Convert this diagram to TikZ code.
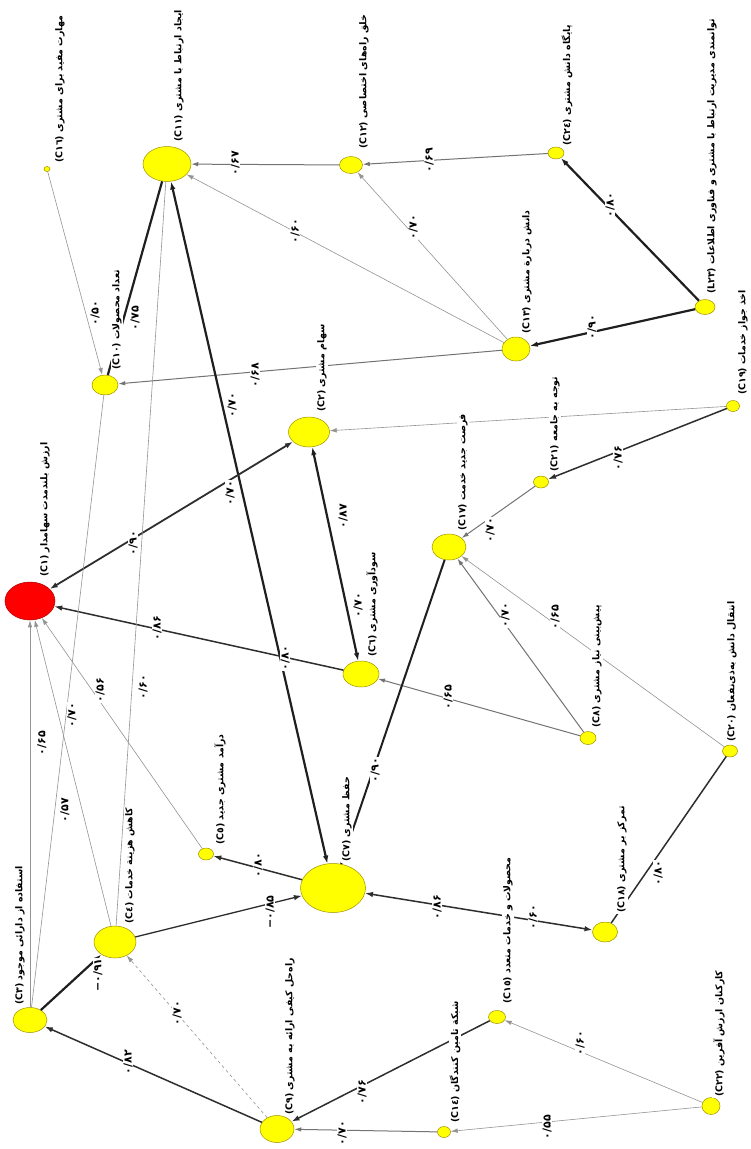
\documentclass[tikz,border=0pt]{standalone}
\usepackage{fontspec}
\newfontfamily\fa[Script=Arabic]{DejaVu Sans}
\TeXXeTstate=1
\usetikzlibrary{shapes.geometric,arrows.meta}
\definecolor{ylw}{HTML}{FFFF00}
\definecolor{ylwline}{HTML}{A09000}
\definecolor{rd}{HTML}{FF0000}
\definecolor{rdline}{HTML}{B00000}
\newcommand\nd[5]{\node[yn,minimum width=#4pt,minimum height=#5pt] (#1) at (#2,#3) {};}
\begin{document}
\begin{tikzpicture}[x=1pt,y=-1pt,
  yn/.style={ellipse, draw=ylwline, fill=ylw, line width=0.5pt, inner sep=0pt},
  rn/.style={ellipse, draw=rdline, fill=rd, line width=0.5pt, inner sep=0pt},
  nlab/.style={rotate=90, anchor=west, fill=white, inner sep=1pt, font=\fa\bfseries\fontsize{9.4}{10}\selectfont},
  elab/.style={rotate=90, fill=white, inner sep=0.8pt, font=\fa\bfseries\fontsize{11}{12}\selectfont},
  hv/.style={draw=black!88, line width=2.2pt},
  md/.style={draw=black!82, line width=1.5pt},
  gr/.style={draw=black!55, line width=1pt},
  lt/.style={draw=black!42, line width=0.6pt},
  ah/.style={-{Latex[length=8pt,width=5.5pt]}},
  ahb/.style={{Latex[length=8pt,width=5.5pt]}-{Latex[length=8pt,width=5.5pt]}},
  ahs/.style={-{Latex[length=7pt,width=4.5pt]}},
]
\fill[white] (0,0) rectangle (751,1149);
\path[use as bounding box] (0,0) rectangle (751,1149);
% nodes
\node[rn,minimum width=50pt,minimum height=38pt] (C1) at (30,601) {};
\nd{C2}{309}{432}{41}{30}
\nd{C3}{30}{1020}{34}{25}
\nd{C4}{115}{942}{42}{32}
\nd{C5}{206}{854}{15}{12}
\nd{C6}{361}{674}{36}{26}
\nd{C7}{333}{888}{65}{49}
\nd{C8}{588}{738}{16}{13}
\nd{C9}{277}{1129}{34}{27}
\nd{C10}{105}{385}{26}{20}
\nd{C11}{167}{164}{48}{35}
\nd{C12}{351}{165}{23}{17}
\nd{C13}{516}{349}{28}{24}
\nd{C14}{444}{1132}{13}{11}
\nd{C15}{497}{1017}{17}{13}
\nd{C16}{47}{169}{6}{5}
\nd{C17}{449}{547}{34}{26}
\nd{C18}{605}{932}{25}{20}
\nd{C19}{733}{406}{13}{11}
\nd{C20}{730}{751}{15}{12}
\nd{C21}{541}{482}{15}{12}
\nd{C22}{711}{1106}{18}{17}
\nd{L23}{705}{307}{20}{15}
\nd{C24}{556}{153}{16}{12}
% edges
\draw[gr,ahs] (C12) -- (C11);
\draw[gr,ahs] (C24) -- (C12);
\draw[lt,ahs] (C13) -- (C12);
\draw[lt,ahs] (C13) -- (C11);
\draw[hv,ah] (L23) -- (C24);
\draw[hv,ah] (L23) -- (C13);
\draw[gr,ahs] (C13) -- (C10);
\draw[lt,ahs] (C16) -- (C10);
\draw[hv] (C11) -- (C10);
\draw[hv,ahb] (C11) -- (C7);
\draw[md,line width=1.8pt,ahb] (C1) -- (C2);
\draw[hv,ahb] (C2) -- (C6);
\draw[md,ah] (C6) -- (C1);
\draw[lt,ahs] (C19) -- (C2);
\draw[md,ah] (C19) -- (C21);
\draw[gr,ahs] (C21) -- (C17);
\draw[gr,ahs] (C8) -- (C17);
\draw[lt,ahs] (C20) -- (C17);
\draw[gr,ahs] (C8) -- (C6);
\draw[hv,line width=2pt] (C17) -- (C7);
\draw[md,ah] (C7) -- (C5);
\draw[md,line width=1.3pt,ah] (C4) -- (C7);
\draw[md,ahb] (C18) -- (C7);
\draw[md] (C20) -- (C18);
\draw[hv,ah] (C3) -- (C4);
\draw[lt,dashed,ahs] (C9) -- (C4);
\draw[md,ah] (C9) -- (C3);
\draw[md,ah] (C15) -- (C9);
\draw[gr,ahs] (C14) -- (C9);
\draw[lt,ahs] (C22) -- (C15);
\draw[lt,ahs] (C22) -- (C14);
\draw[lt,ahs] (C5) -- (C1);
\draw[lt,ahs] (C4) -- (C1);
\draw[lt,line width=0.8pt,ahs] (C3) -- (C1);
\draw[lt] (C10) -- (C3);
\draw[lt] (C11) -- (C4);
% node labels
\node[nlab] (tC1) at (45,578) {\beginR ارزش بلندمدت سهامدار \beginL(C۱)\endL\endR};
\node[nlab] (tC2) at (322,413) {\beginR سهام مشتری \beginL(C۲)\endL\endR};
\node[nlab] (tC3) at (20,1006) {\beginR استفاده از دارائی موجود \beginL(C۳)\endL\endR};
\node[nlab] (tC4) at (130,925) {\beginR کاهش هزینة خدمات \beginL(C٤)\endL\endR};
\node[nlab] (tC5) at (220,846) {\beginR درآمد مشتری جدید \beginL(C٥)\endL\endR};
\node[nlab] (tC6) at (372,658) {\beginR سودآوری مشتری \beginL(C٦)\endL\endR};
\node[nlab] (tC7) at (347,863) {\beginR حفظ مشتری \beginL(C۷)\endL\endR};
\node[nlab] (tC8) at (597,729) {\beginR پیش‌بینی نیاز مشتری \beginL(C۸)\endL\endR};
\node[nlab] (tC9) at (290,1116) {\beginR راه‌حل کیفی ارائه به مشتری \beginL(C۹)\endL\endR};
\node[nlab] (tC10) at (117,371) {\beginR تعداد محصولات \beginL(C۱۰)\endL\endR};
\node[nlab] (tC11) at (179,143) {\beginR ایجاد ارتباط با مشتری \beginL(C۱۱)\endL\endR};
\node[nlab] (tC12) at (364,150) {\beginR خلق راه‌های اختصاصی \beginL(C۱۲)\endL\endR};
\node[nlab] (tC13) at (527,335) {\beginR دانش دربارة مشتری \beginL(C۱۳)\endL\endR};
\node[nlab] (tC14) at (455,1124) {\beginR شبکة تامین کنندگان \beginL(C۱٤)\endL\endR};
\node[nlab] (tC15) at (508,1005) {\beginR محصولات و خدمات متعدد \beginL(C۱٥)\endL\endR};
\node[nlab] (tC16) at (60,164) {\beginR مهارت مفید برای مشتری \beginL(C۱٦)\endL\endR};
\node[nlab] (tC17) at (463,532) {\beginR فرصت جدید خدمت \beginL(C۱۷)\endL\endR};
\node[nlab] (tC18) at (622,914) {\beginR تمرکز بر مشتری \beginL(C۱۸)\endL\endR};
\node[nlab] (tC19) at (743,396) {\beginR اخذ جواز خدمات \beginL(C۱۹)\endL\endR};
\node[nlab] (tC20) at (732,743) {\beginR انتقال دانش به‌ذی‌نفعان \beginL(C۲۰)\endL\endR};
\node[nlab] (tC21) at (555,473) {\beginR توجه به جامعه \beginL(C۲۱)\endL\endR};
\node[nlab] (tC22) at (719,1098) {\beginR کارکنان ارزش آفرین \beginL(C۲۲)\endL\endR};
\node[nlab] (tL23) at (712,295) {\beginR توانمندی مدیریت ارتباط با مشتری و فناوری اطلاعات \beginL(L۲۳)\endL\endR};
\node[nlab] (tC24) at (567,147) {\beginR پایگاه دانش مشتری \beginL(C۲٤)\endL\endR};
% edge labels
\node[elab] (e1) at (235,163) {۰/۶۷};
\node[elab] (e2) at (429,160) {۰/۶۹};
\node[elab] (e3) at (413,227) {۰/۷۰};
\node[elab] (e4) at (295,231) {۰/۶۰};
\node[elab] (e5) at (610,205) {۰/۸۰};
\node[elab] (e6) at (592,327) {۰/۹۰};
\node[elab] (e7) at (255,375) {۰/۶۸};
\node[elab] (e8) at (95,313) {۰/۵۰};
\node[elab] (e9) at (135,318) {۰/۷۵};
\node[elab] (e10) at (232,405) {۰/۷۰};
\node[elab] (e11) at (285,658) {۰/۸۰};
\node[elab] (e12) at (133,543) {۰/۹۰};
\node[elab] (e13) at (230,493) {۰/۷۰};
\node[elab] (e14) at (343,516) {۰/۸۷};
\node[elab] (e15) at (358,605) {۰/۷۰};
\node[elab] (e16) at (157,628) {۰/۸۶};
\node[elab] (e17) at (618,458) {۰/۷۶};
\node[elab] (e18) at (490,530) {۰/۷۰};
\node[elab] (e19) at (505,615) {۰/۷۰};
\node[elab] (e20) at (555,617) {۰/۶۵};
\node[elab] (e21) at (448,697) {۰/۶۵};
\node[elab] (e22) at (375,770) {۰/۹۰};
\node[elab] (e23) at (258,865) {۰/۸۰};
\node[elab] (e24) at (270,912) {\hbox{−}\hbox{۰/۸۵}};
\node[elab] (e25) at (437,907) {۰/۸۶};
\node[elab] (e26) at (533,917) {۰/۶۰};
\node[elab] (e27) at (658,873) {۰/۸۰};
\node[elab] (e28) at (98,975) {\hbox{−}\hbox{۰/۹۱}};
\node[elab] (e29) at (177,1013) {۰/۷۰};
\node[elab] (e30) at (128,1062) {۰/۸۲};
\node[elab] (e31) at (362,1092) {۰/۷۶};
\node[elab] (e32) at (342,1133) {۰/۷۰};
\node[elab] (e33) at (580,1043) {۰/۶۰};
\node[elab] (e34) at (547,1127) {۰/۵۵};
\node[elab] (e35) at (100,690) {۰/۵۶};
\node[elab] (e36) at (72,715) {۰/۷۰};
\node[elab] (e37) at (42,743) {۰/۶۵};
\node[elab] (e38) at (65,810) {۰/۵۷};
\node[elab] (e39) at (143,687) {۰/۶۰};
\end{tikzpicture}
\end{document}
